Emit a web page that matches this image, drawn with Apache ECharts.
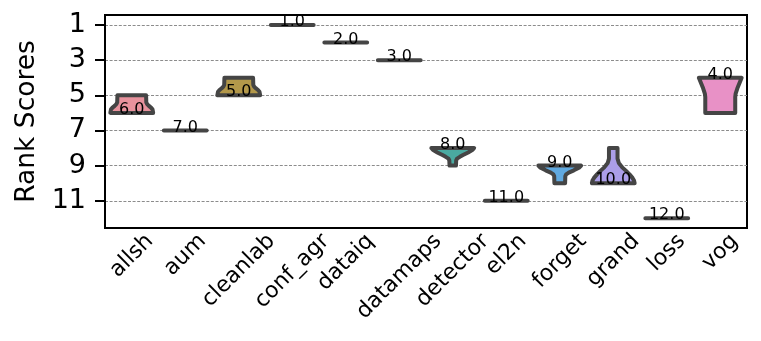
<!DOCTYPE html>
<html>
<head>
<meta charset="utf-8">
<script src="https://cdn.jsdelivr.net/npm/echarts@6/dist/echarts.min.js"></script>
<style>
  html, body { margin: 0; padding: 0; background: #fff; }
  #chart { width: 761px; height: 341px; }
</style>
</head>
<body>
<div id="chart"></div>
<script>
var methods = ['allsh', 'aum', 'cleanlab', 'conf_agr', 'dataiq', 'datamaps', 'detector', 'el2n', 'forget', 'grand', 'loss', 'vog']
var medians = [6, 7, 5, 1, 2, 3, 8, 11, 9, 10, 12, 4]
// violin outline of each method, top to bottom: [rank, relative width]
var profiles = [
  [[5, 0.67], [5.4, 0.68], [5.5, 0.72], [5.6, 0.8], [5.7, 0.9], [5.8, 0.97], [6, 1]],
  [[7, 1], [7, 1]],
  [[4, 0.67], [4.4, 0.68], [4.5, 0.72], [4.6, 0.8], [4.7, 0.9], [4.8, 0.97], [5, 1]],
  [[1, 1], [1, 1]],
  [[2, 1], [2, 1]],
  [[3, 1], [3, 1]],
  [[8, 1], [8.1, 0.93], [8.25, 0.72], [8.4, 0.48], [8.5, 0.33], [8.6, 0.2], [8.7, 0.16], [9, 0.15]],
  [[11, 1], [11, 1]],
  [[9, 1], [9.1, 0.92], [9.27, 0.66], [9.4, 0.42], [9.5, 0.3], [9.6, 0.26], [10, 0.25]],
  [[8, 0.2], [8.6, 0.2], [8.85, 0.26], [9.1, 0.42], [9.3, 0.6], [9.5, 0.76], [9.7, 0.9], [9.85, 0.97], [10, 1]],
  [[12, 1], [12, 1]],
  [[4, 1], [4.3, 0.9], [4.6, 0.8], [4.9, 0.72], [5.1, 0.7], [6, 0.7]]
]
var yTicks = [1, 3, 5, 7, 9, 11]

var colors = ['#e8929d', '#d49356', '#b3984a', '#9fa048', '#74aa4c', '#4fae82',
  '#4aaaa1', '#4ca6c2', '#60a9e0', '#ab9ee8', '#d689d9', '#e891c6']
var fontFamily = '"DejaVu Sans", sans-serif'
var xLabelSize = 22
var yMin = 0.43
var yMax = 12.55

var ctx = document.createElement('canvas').getContext('2d')
ctx.font = xLabelSize + 'px ' + fontFamily

function renderViolin(params, api) {
  var i = api.value(0)
  var half = api.size([1, 0])[0] * 0.8 / 2
  var left = []
  var right = []
  profiles[i].forEach(function(p) {
    var c = api.coord([i, p[0]])
    left.push([c[0] - p[1] * half, c[1]])
    right.unshift([c[0] + p[1] * half, c[1]])
  })
  var m = api.coord([i, medians[i]])
  return {
    type: 'group',
    children: [
      {
        type: 'polygon',
        shape: { points: left.concat(right) },
        style: { fill: colors[i], stroke: '#454545', lineWidth: 4, lineJoin: 'round' }
      },
      {
        type: 'text',
        x: m[0],
        y: m[1] - 3,
        style: {
          text: medians[i].toFixed(1),
          font: '16px ' + fontFamily,
          fill: '#000',
          align: 'center',
          verticalAlign: 'middle'
        }
      }
    ]
  }
}

// x labels rotated 45 deg, centred under the tick like matplotlib
function renderXLabel(params, api) {
  var i = api.value(0)
  var name = methods[i]
  var base = api.coord([i, yMax])
  var span = (ctx.measureText(name).width + xLabelSize) / Math.SQRT2
  return {
    type: 'text',
    x: base[0],
    y: base[1] + 2 + span / 2,
    rotation: Math.PI / 4,
    style: {
      text: name,
      font: xLabelSize + 'px ' + fontFamily,
      fill: '#000',
      align: 'center',
      verticalAlign: 'middle'
    }
  }
}

var option = {
  animation: false,
  grid: { left: 105, right: 14, top: 15, bottom: 113, show: true, borderColor: '#000', borderWidth: 2 },
  xAxis: {
    type: 'category',
    data: methods,
    axisLine: { lineStyle: { color: '#000', width: 2 } },
    axisTick: { alignWithLabel: true, length: 10, lineStyle: { color: '#000', width: 2 } },
    axisLabel: { show: false }
  },
  yAxis: {
    type: 'value',
    inverse: true,
    min: yMin,
    max: yMax,
    name: 'Rank Scores',
    nameLocation: 'middle',
    nameGap: 64,
    nameTextStyle: { fontSize: 26.5, fontFamily: fontFamily, color: '#000' },
    axisLine: { show: true, lineStyle: { color: '#000', width: 2 } },
    axisTick: { show: true, customValues: yTicks, length: 10, lineStyle: { color: '#000', width: 2 } },
    axisLabel: { customValues: yTicks, fontSize: 27, fontFamily: fontFamily, color: '#000', margin: 19 },
    splitLine: { show: true, lineStyle: { color: '#8c8c8c', width: 1, type: [3, 1.6] } }
  },
  series: [
    {
      type: 'custom',
      renderItem: renderViolin,
      clip: false,
      encode: { x: 0, y: 1 },
      data: methods.map(function(m, i) { return [i, medians[i]] })
    },
    {
      type: 'custom',
      renderItem: renderXLabel,
      clip: false,
      silent: true,
      encode: { x: 0, y: 1 },
      data: methods.map(function(m, i) { return [i, yMax] })
    }
  ]
}

var chart = echarts.init(document.getElementById('chart'))
chart.setOption(option)
</script>
</body>
</html>
